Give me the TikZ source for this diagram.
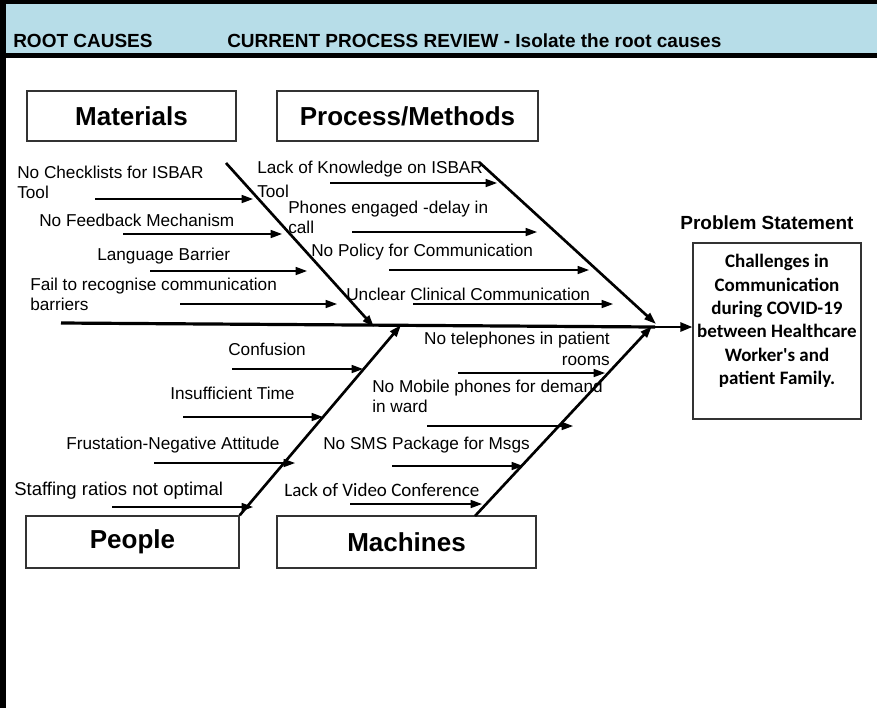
\documentclass[tikz,border=0pt]{standalone}
\usepackage{fontspec}
\setmainfont{Liberation Sans}
\newfontfamily\calibri{Carlito}
\usepackage{xcolor}
\usetikzlibrary{arrows.meta}
\definecolor{headblue}{RGB}{183,221,232}

\begin{document}
\begin{tikzpicture}[
x=0.75pt, y=-0.75pt,
every node/.style={font=\fontsize{12.9}{14.3}\selectfont, inner sep=0pt},
headtext/.style={anchor=base west, font=\bfseries\fontsize{14.25}{17}\selectfont},
catbox/.style={rectangle, draw=black!80, line width=1.1pt, minimum height=37.5pt,
font=\bfseries\fontsize{19.5}{23}\selectfont},
causetext/.style={anchor=base west, align=left},
causearrow/.style={-{Triangle[length=8.5pt, width=6pt]}, line width=1.1pt},
bonearrow/.style={-{Triangle[length=9pt, width=6pt]}, line width=2pt},
spineline/.style={line width=2.4pt},
spinearrow/.style={-{Triangle[length=9pt, width=7pt]}, line width=1.5pt}
]
\useasboundingbox (0,0) rectangle (877,708);

\fill[headblue] (0,0) rectangle (877,55);
\fill[black] (0,0) rectangle (877,4);
\fill[black] (0,53) rectangle (877,58);
\fill[black] (0,0) rectangle (6,708);

\node[headtext] (rootcauses) at (13,47) {ROOT CAUSES};
\node[headtext] (review) at (227,47) {CURRENT PROCESS REVIEW - Isolate the root causes};

\node[catbox, minimum width=156.75pt] (materials) at (131.5,116) {Materials};
\node[catbox, minimum width=195.75pt] (process) at (407.5,116) {Process/Methods};
\node[catbox, minimum width=159.75pt, minimum height=39pt] (people) at (132.5,542) {People};
\node[catbox, minimum width=194.25pt, minimum height=39pt] (machines) at (406.5,542) {Machines};

\node[anchor=base, font=\bfseries\fontsize{14.25}{17}\selectfont] (probtitle) at (767,229) {Problem Statement};
\node[draw=black!80, line width=1.1pt] (probbox) at (777,331) {\parbox[c][132pt][t]{126pt}{\calibri\bfseries\fontsize{14.25}{17.5}\selectfont\centering
\vspace*{8.5pt}Challenges in\\Communication\\during COVID-19\\between Healthcare\\Worker's and\\patient Family.}};

\coordinate (tail) at (61,323);
\coordinate (head) at (655,327);
\draw[spineline] (tail) -- (head);
\draw[spinearrow] (head) -- (head -| probbox.west);

\coordinate (matroot) at (226,163);
\coordinate (matjoin) at (374,327);
\coordinate (procroot) at (479,162);
\coordinate (procjoin) at (656,324);
\coordinate (peoplejoin) at (401,325);
\coordinate (machroot) at (475,516);
\coordinate (machjoin) at (652,326);
\draw[bonearrow] (matroot) -- (matjoin);
\draw[bonearrow] (procroot) -- (procjoin);
\draw[bonearrow] (people.north east) -- (peoplejoin);
\draw[bonearrow] (machroot) -- (machjoin);

\node[causetext] (nochecklist) at (17,198) {No Checklists for ISBAR\\Tool};
\node[causetext] (nofeedback) at (39,226) {No Feedback Mechanism};
\node[causetext] (language) at (97,260) {Language Barrier};
\node[causetext] (failbarrier) at (30,310) {Fail to recognise communication\\barriers};

\node[causetext] (lackknow) at (257,197) {Lack of Knowledge on ISBAR\\[3pt]Tool};
\node[causetext] (phones) at (288,233) {Phones engaged -delay in\\call};
\node[causetext] (nopolicy) at (311,256) {No Policy for Communication};
\node[causetext] (unclear) at (346,300) {Unclear Clinical Communication};

\node[causetext] (confusion) at (228,355) {Confusion};
\node[causetext] (notime) at (170,399) {Insufficient Time};
\node[causetext] (frustation) at (66,449) {Frustation-Negative Attitude};
\node[causetext, font=\fontsize{13.9}{15}\selectfont] (staffing) at (14,495) {Staffing ratios not optimal};

\node[causetext, anchor=base east, align=right] (notelephone) at (610,365) {No telephones in patient\\[0.75pt]rooms};
\node[causetext] (nomobile) at (372,412) {No Mobile phones for demand\\in ward};
\node[causetext] (nosms) at (323,449) {No SMS Package for Msgs};
\node[causetext, font=\calibri\fontsize{14.25}{17}\selectfont] (novideo) at (284,496) {Lack of Video Conference};

\coordinate (ma1) at (95,199);  \coordinate (mb1) at (253,199);
\coordinate (ma2) at (123,234); \coordinate (mb2) at (282,234);
\coordinate (ma3) at (150,271); \coordinate (mb3) at (307,271);
\coordinate (ma4) at (180,304); \coordinate (mb4) at (337,304);
\coordinate (pa1) at (330,183); \coordinate (pb1) at (497,183);
\coordinate (pa2) at (352,232); \coordinate (pb2) at (537,232);
\coordinate (pa3) at (389,270); \coordinate (pb3) at (589,270);
\coordinate (pa4) at (413,304); \coordinate (pb4) at (613,304);
\coordinate (qa1) at (232,369); \coordinate (qb1) at (363,369);
\coordinate (qa2) at (183,417); \coordinate (qb2) at (323,417);
\coordinate (qa3) at (154,463); \coordinate (qb3) at (295,463);
\coordinate (qa4) at (112,507); \coordinate (qb4) at (253,507);
\coordinate (ka1) at (458,373); \coordinate (kb1) at (605,373);
\coordinate (ka2) at (427,426); \coordinate (kb2) at (573,426);
\coordinate (ka3) at (392,466); \coordinate (kb3) at (523,466);
\coordinate (ka4) at (350,504); \coordinate (kb4) at (482,504);

\draw[causearrow] (ma1) -- (mb1);
\draw[causearrow] (ma2) -- (mb2);
\draw[causearrow] (ma3) -- (mb3);
\draw[causearrow] (ma4) -- (mb4);
\draw[causearrow] (pa1) -- (pb1);
\draw[causearrow] (pa2) -- (pb2);
\draw[causearrow] (pa3) -- (pb3);
\draw[causearrow] (pa4) -- (pb4);
\draw[causearrow] (qa1) -- (qb1);
\draw[causearrow] (qa2) -- (qb2);
\draw[causearrow] (qa3) -- (qb3);
\draw[causearrow] (qa4) -- (qb4);
\draw[causearrow] (ka1) -- (kb1);
\draw[causearrow] (ka2) -- (kb2);
\draw[causearrow] (ka3) -- (kb3);
\draw[causearrow] (ka4) -- (kb4);

\end{tikzpicture}
\end{document}
